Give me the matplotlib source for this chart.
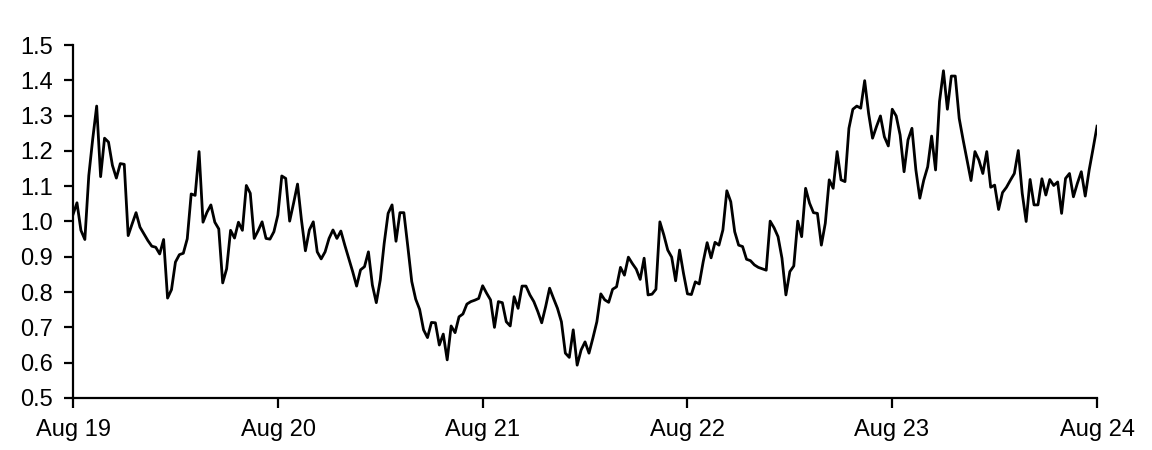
import pandas as pd
import matplotlib
matplotlib.use('Agg')
import matplotlib.pyplot as plt

# weekly values, Aug 2019 -> Aug 2024
values = [
    1.02, 1.053, 0.975, 0.949, 1.13, 1.234, 1.327, 1.127, 1.236, 1.225,
    1.159, 1.123, 1.164, 1.162, 0.960, 0.993, 1.025, 0.984, 0.965, 0.946,
    0.930, 0.927, 0.908, 0.949, 0.783, 0.807, 0.885, 0.906, 0.910, 0.951,
    1.078, 1.074, 1.198, 0.998, 1.026, 1.047, 0.998, 0.979, 0.826, 0.866,
    0.975, 0.953, 0.998, 0.975, 1.102, 1.080, 0.952, 0.974, 0.999, 0.952,
    0.950, 0.971, 1.018, 1.129, 1.122, 1.001, 1.052, 1.106, 1.004, 0.917,
    0.976, 0.999, 0.914, 0.894, 0.914, 0.952, 0.976, 0.952, 0.973, 0.933,
    0.896, 0.858, 0.817, 0.863, 0.872, 0.914, 0.820, 0.770, 0.834, 0.938,
    1.023, 1.047, 0.944, 1.025, 1.025, 0.929, 0.830, 0.780, 0.751, 0.693,
    0.671, 0.714, 0.713, 0.650, 0.681, 0.608, 0.704, 0.685, 0.730, 0.738,
    0.766, 0.773, 0.777, 0.782, 0.818, 0.797, 0.778, 0.700, 0.773, 0.770,
    0.716, 0.704, 0.787, 0.754, 0.817, 0.817, 0.792, 0.773, 0.745, 0.713,
    0.759, 0.811, 0.782, 0.754, 0.716, 0.627, 0.615, 0.693, 0.593, 0.636,
    0.659, 0.627, 0.670, 0.716, 0.795, 0.778, 0.771, 0.808, 0.815, 0.870,
    0.848, 0.899, 0.881, 0.865, 0.836, 0.896, 0.792, 0.794, 0.808, 0.999,
    0.962, 0.919, 0.899, 0.832, 0.919, 0.853, 0.795, 0.793, 0.829, 0.823,
    0.886, 0.940, 0.897, 0.941, 0.933, 0.976, 1.087, 1.056, 0.971, 0.933,
    0.929, 0.893, 0.889, 0.877, 0.870, 0.866, 0.862, 1.001, 0.982, 0.957,
    0.896, 0.792, 0.858, 0.874, 1.001, 0.957, 1.094, 1.052, 1.025, 1.023,
    0.933, 0.995, 1.118, 1.094, 1.198, 1.118, 1.113, 1.264, 1.318, 1.327,
    1.321, 1.399, 1.306, 1.236, 1.269, 1.299, 1.240, 1.214, 1.318, 1.299,
    1.245, 1.141, 1.231, 1.264, 1.146, 1.066, 1.117, 1.155, 1.242, 1.146,
    1.340, 1.427, 1.318, 1.412, 1.412, 1.292, 1.231, 1.174, 1.116, 1.198,
    1.174, 1.136, 1.198, 1.097, 1.103, 1.034, 1.082, 1.097, 1.117, 1.136,
    1.201, 1.080, 1.000, 1.119, 1.047, 1.047, 1.121, 1.075, 1.119, 1.102,
    1.112, 1.023, 1.122, 1.136, 1.070, 1.108, 1.141, 1.072, 1.146, 1.207,
    1.270,
]
dates = pd.date_range('2019-08-01', '2024-08-01', periods=len(values))

tick_dates = pd.to_datetime(['2019-08-01', '2020-08-01', '2021-08-01',
                             '2022-08-01', '2023-08-01', '2024-08-01'])
tick_labels = ['Aug 19', 'Aug 20', 'Aug 21', 'Aug 22', 'Aug 23', 'Aug 24']
y_ticks = [0.5, 0.6, 0.7, 0.8, 0.9, 1.0, 1.1, 1.2, 1.3, 1.4, 1.5]

plt.rcParams['font.family'] = ['Liberation Sans', 'DejaVu Sans']

fig = plt.figure(figsize=(11.52, 4.5), dpi=100)
ax = fig.add_axes([0.0634, 0.1156, 0.8889, 0.7844])

ax.plot(dates, values, color='black', linewidth=2.0)

ax.set_xlim(tick_dates[0], tick_dates[-1])
ax.set_ylim(0.5, 1.5)
ax.set_xticks(tick_dates)
ax.set_xticklabels(tick_labels)
ax.set_yticks(y_ticks)
ax.set_yticklabels(['%.1f' % v for v in y_ticks])

for side in ['top', 'right']:
    ax.spines[side].set_visible(False)
for side in ['left', 'bottom']:
    ax.spines[side].set_linewidth(1.6)
    ax.spines[side].set_color('black')

ax.tick_params(axis='y', direction='out', length=6.5, width=1.6, pad=8, labelsize=17)
ax.tick_params(axis='x', direction='out', length=7, width=1.6, pad=8, labelsize=17)

fig.savefig('out.png', dpi=100)
